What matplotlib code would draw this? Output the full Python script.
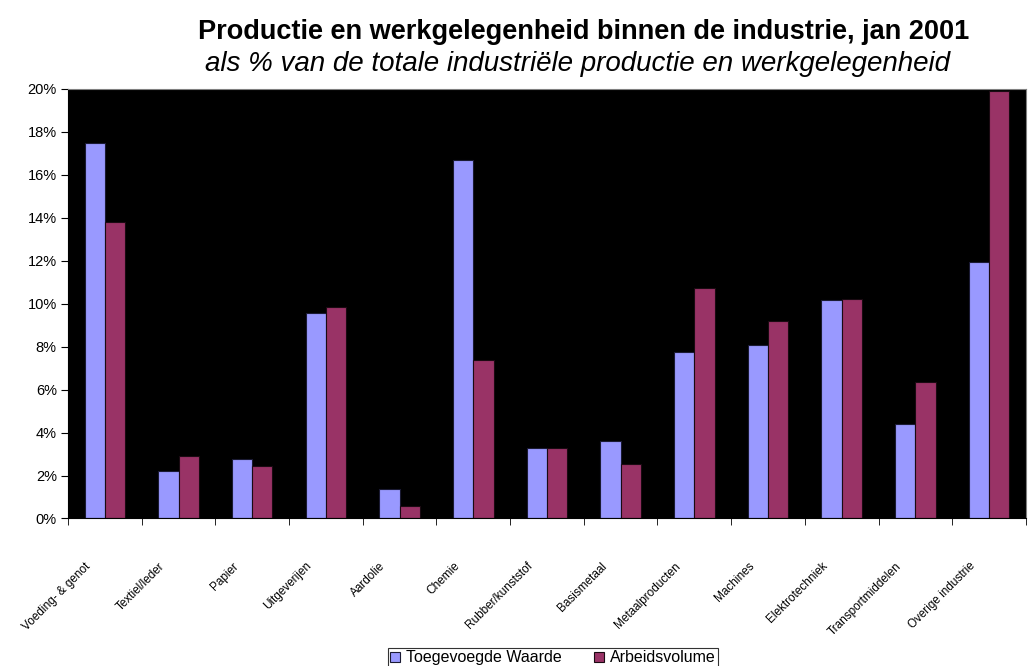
import numpy as np
import matplotlib.pyplot as plt
import matplotlib.transforms as mtransforms
from matplotlib.ticker import FixedLocator, PercentFormatter

plt.rcParams['font.family'] = ['Liberation Sans', 'DejaVu Sans']

categories = ["Voeding- & genot", "Textiel/leder", "Papier", "Uitgeverijen",
              "Aardolie", "Chemie", "Rubber/kunststof", "Basismetaal",
              "Metaalproducten", "Machines", "Elektrotechniek",
              "Transportmiddelen", "Overige industrie"]
toegevoegde_waarde = [17.5, 2.2, 2.75, 9.56, 1.36, 16.7, 3.3, 3.6, 7.75, 8.07, 10.15, 4.4, 11.93]
arbeidsvolume = [13.8, 2.92, 2.45, 9.84, 0.6, 7.4, 3.3, 2.55, 10.74, 9.18, 10.22, 6.34, 19.9]

fig = plt.figure(figsize=(10.3, 6.66), dpi=100)
ax = fig.add_axes([0.066, 0.2215, 0.93, 0.645])
ax.set_facecolor('black')

x = np.arange(len(categories))
w = 0.275
ax.bar(x - w / 2, toegevoegde_waarde, w, color='#9999FF', edgecolor='#1a1a33',
       linewidth=0.8, label='Toegevoegde Waarde')
ax.bar(x + w / 2, arbeidsvolume, w, color='#993366', edgecolor='#1a0a12',
       linewidth=0.8, label='Arbeidsvolume')

ax.set_xlim(-0.5, len(categories) - 0.5)
ax.set_ylim(0, 20)
ax.set_yticks(np.arange(0, 21, 2))
ax.yaxis.set_major_formatter(PercentFormatter(decimals=0))
ax.tick_params(axis='y', labelsize=10.5, length=5, direction='out', pad=3)

# category labels at the centre, tick marks on the boundaries
ax.set_xticks(x)
ax.set_xticklabels(categories, rotation=45, ha='right', rotation_mode='anchor',
                   fontsize=8.5, family=['Liberation Sans Narrow', 'Liberation Sans'])
ax.tick_params(axis='x', which='major', length=0, pad=30)
shift = mtransforms.ScaledTranslation(-20 / 100, 0, fig.dpi_scale_trans)
for lab in ax.get_xticklabels():
    lab.set_transform(lab.get_transform() + shift)
ax.xaxis.set_minor_locator(FixedLocator(np.arange(-0.5, len(categories), 1.0)))
ax.tick_params(axis='x', which='minor', length=5, direction='out')

for s in ['top', 'right']:
    ax.spines[s].set_color('#808080')
for s in ['left', 'bottom']:
    ax.spines[s].set_color('black')

fig.text(0.567, 0.952, 'Productie en werkgelegenheid binnen de industrie, jan 2001',
         ha='center', va='center', fontsize=19.5, fontweight='bold')
fig.text(0.561, 0.904, 'als % van de totale industriële productie en werkgelegenheid',
         ha='center', va='center', fontsize=20, style='italic')

leg = fig.legend(loc='upper center', bbox_to_anchor=(0.537, 1 - 640 / 666), ncol=2,
                 fontsize=11.5, frameon=True, fancybox=False, handlelength=0.6,
                 handleheight=0.6, handletextpad=0.4, columnspacing=2.0,
                 borderpad=0.15, edgecolor='black')
leg.get_frame().set_linewidth(0.8)

fig.savefig('out.png', dpi=100)
